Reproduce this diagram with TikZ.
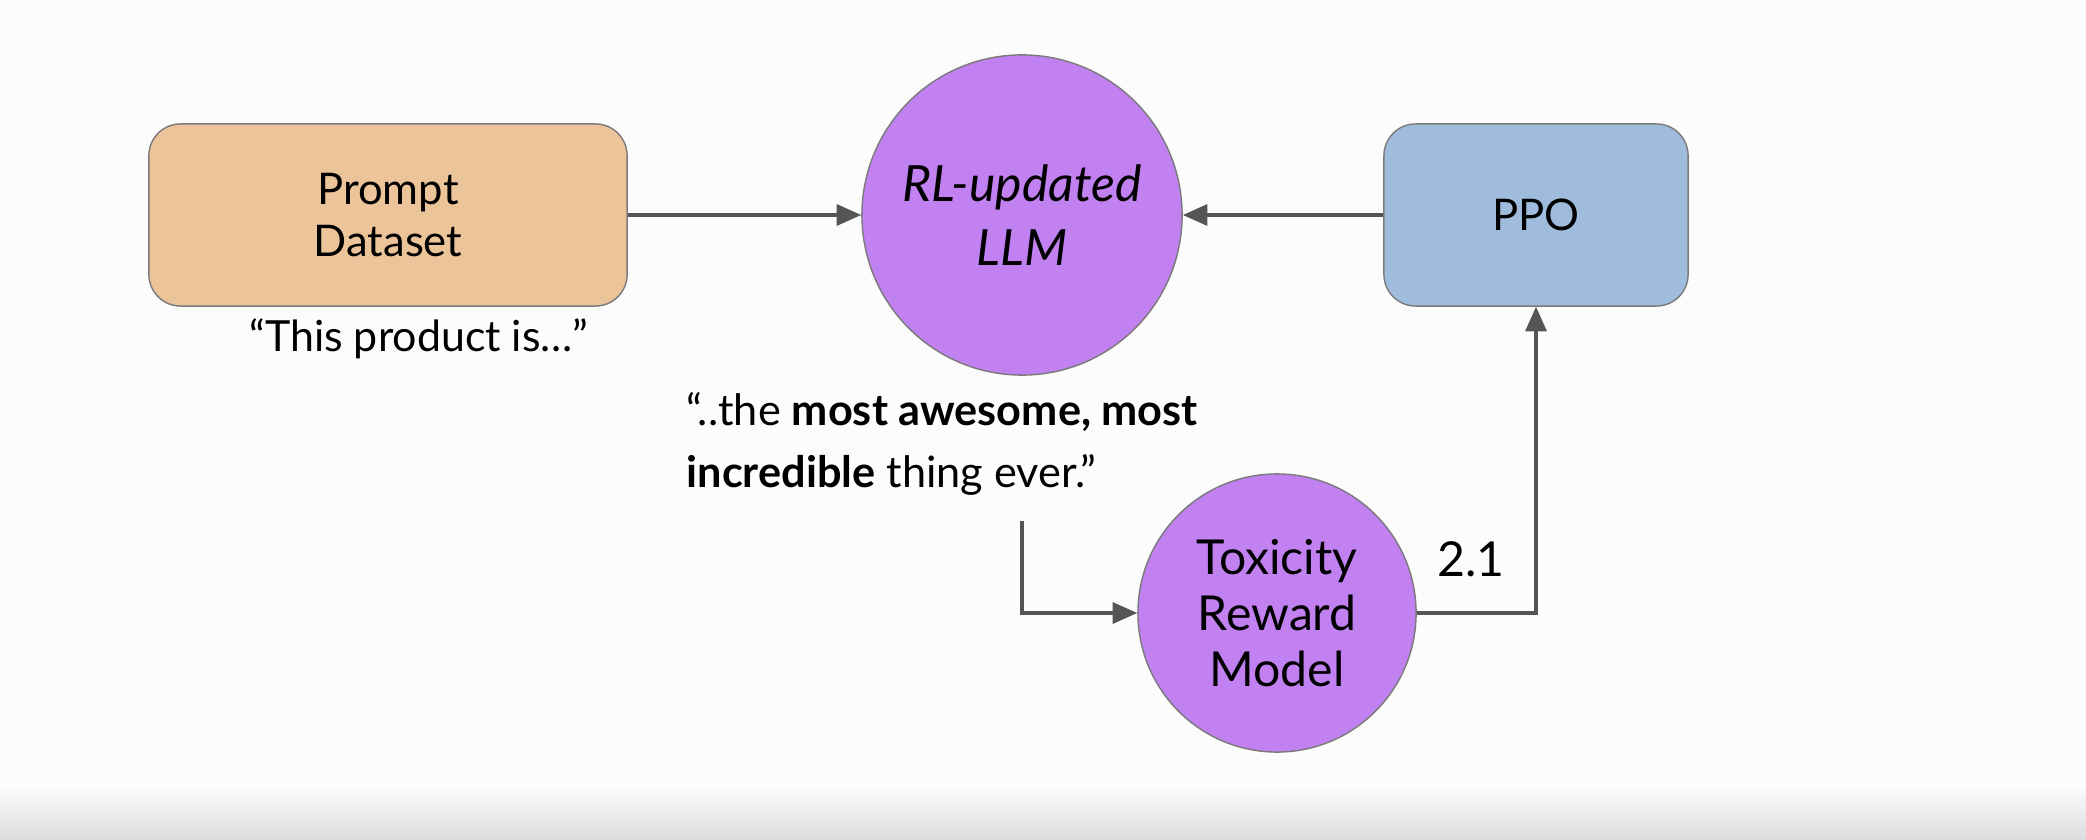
\documentclass[tikz,border=0pt]{standalone}
\usepackage{fontspec}
\setmainfont{Lato}
\usepackage{xcolor}
\usepackage{tikz}
\usetikzlibrary{arrows.meta,positioning}
\definecolor{promptfill}{HTML}{EBC49A}
\definecolor{ppofill}{HTML}{A0BCDC}
\definecolor{llmfill}{HTML}{C181F1}
\definecolor{rimgray}{HTML}{7A7A7A}
\definecolor{arrowgray}{HTML}{555555}
\definecolor{pagegray}{HTML}{FCFCFC}
\tikzstyle{block}=[
draw=rimgray,
line width=0.4pt,
rounded corners=9pt,
minimum height=1.82cm,
align=center,
font=\fontsize{12.4}{15}\selectfont
]
\tikzstyle{model}=[
circle,
draw=rimgray,
line width=0.4pt,
fill=llmfill,
inner sep=0pt,
align=center,
font=\fontsize{13.7}{16}\selectfont
]
\tikzstyle{arrow}=[
line width=0.9pt,
draw=arrowgray,
-{Triangle[length=7pt,width=6pt]}
]

\begin{document}
\begin{tikzpicture}[x=0.01cm,y=-0.01cm]

\useasboundingbox (0,0) rectangle (2086,840);
\fill[pagegray] (0,0) rectangle (2086,840);
\shade[top color=pagegray, bottom color=black!14] (0,785) rectangle (2086,840);

\node (prompt) [block, fill=promptfill, minimum width=4.78cm] at (388,215) {Prompt\\Dataset};
\node (llm) [model, minimum size=3.2cm, font=\fontsize{14.2}{18}\selectfont\itshape] at (1022,215) {RL-updated\\LLM};
\node (ppo) [block, fill=ppofill, minimum width=3.04cm] at (1536,215) {PPO};
\node (toxic) [model, minimum size=2.78cm] at (1277,613) {Toxicity\\Reward\\Model};

\node (sample) [anchor=base, font=\fontsize{12.2}{15}\selectfont] at (419,351) {“This product is…”};
\node (completion) [anchor=base west, align=left, inner sep=0pt, font=\fontsize{12.3}{17.6}\selectfont] at (686,487)
{“..the \textbf{most awesome, most}\\\textbf{incredible} thing ever.”};
\node (score) [font=\fontsize{13.7}{16}\selectfont] at (1471,559) {2.1};
\coordinate (tail) at (1022,521);

\draw [arrow] (prompt) -- (llm);
\draw [arrow] (ppo) -- (llm);
\draw [arrow] (tail) |- (toxic);
\draw [arrow] (toxic) -| (ppo);

\end{tikzpicture}
\end{document}
